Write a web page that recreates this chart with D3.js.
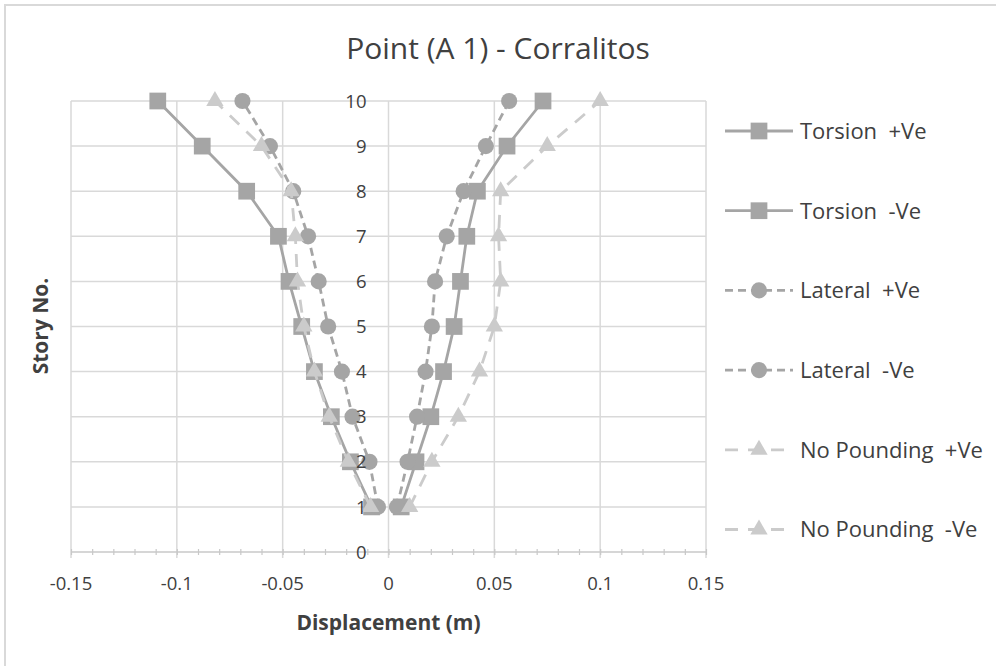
<!DOCTYPE html>
<html>
<head>
<meta charset="utf-8">
<script src="https://cdn.jsdelivr.net/npm/d3@7"></script>
<style>
  html, body { margin: 0; padding: 0; background: #fff; }
  svg { display: block; font-family: "Open Sans", Lato, sans-serif; }
</style>
</head>
<body>
<svg id="chart" width="996" height="666"></svg>
<script>
// Story levels (y) and displacements (m) per series
const stories = [1, 2, 3, 4, 5, 6, 7, 8, 9, 10];
const torsionPos   = [0.006, 0.013, 0.020, 0.026, 0.031, 0.034, 0.037, 0.042, 0.056, 0.073];
const torsionNeg   = [-0.008, -0.018, -0.027, -0.035, -0.041, -0.047, -0.052, -0.067, -0.088, -0.109];
const lateralPos   = [0.004, 0.009, 0.0135, 0.0175, 0.0205, 0.022, 0.0275, 0.0355, 0.046, 0.057];
const lateralNeg   = [-0.005, -0.009, -0.017, -0.022, -0.0285, -0.033, -0.038, -0.045, -0.056, -0.069];
const noPoundPos   = [0.010, 0.0205, 0.033, 0.043, 0.050, 0.053, 0.052, 0.053, 0.075, 0.100];
const noPoundNeg   = [-0.0085, -0.019, -0.028, -0.035, -0.040, -0.043, -0.044, -0.046, -0.060, -0.082];
const seriesNames  = ["Torsion  +Ve", "Torsion  -Ve", "Lateral  +Ve", "Lateral  -Ve", "No Pounding  +Ve", "No Pounding  -Ve"];
const xTicks = [-0.15, -0.1, -0.05, 0, 0.05, 0.1, 0.15];
const yTicks = [0, 1, 2, 3, 4, 5, 6, 7, 8, 9, 10];

const styles = {
  torsion:  { color: "#a5a5a5", dash: null,    symbol: d3.symbolSquare,   size: 280 },
  lateral:  { color: "#a5a5a5", dash: "8,5",   symbol: d3.symbolCircle,   size: 205 },
  noPound:  { color: "#cbcbcb", dash: "13,10", symbol: d3.symbolTriangle, size: 130 }
};

const series = [
  { name: seriesNames[0], values: torsionPos, st: styles.torsion },
  { name: seriesNames[1], values: torsionNeg, st: styles.torsion },
  { name: seriesNames[2], values: lateralPos, st: styles.lateral },
  { name: seriesNames[3], values: lateralNeg, st: styles.lateral },
  { name: seriesNames[4], values: noPoundPos, st: styles.noPound },
  { name: seriesNames[5], values: noPoundNeg, st: styles.noPound }
];

const svg = d3.select("#chart");
const plot = { left: 71, right: 706, top: 101, bottom: 552 };
const textColor = "#404040";

// chart frame
svg.append("rect").attr("x", 5).attr("y", 5).attr("width", 1000).attr("height", 700)
  .attr("fill", "#fff").attr("stroke", "#d9d9d9").attr("stroke-width", 2);

const x = d3.scaleLinear().domain([-0.15, 0.15]).range([plot.left, plot.right]);
const y = d3.scaleLinear().domain([0, 10]).range([plot.bottom, plot.top]);

// gridlines
const grid = svg.append("g");
grid.selectAll("line.v").data(xTicks).join("line")
  .attr("x1", d => x(d)).attr("x2", d => x(d))
  .attr("y1", plot.top).attr("y2", plot.bottom + 6)
  .attr("stroke", "#d9d9d9").attr("stroke-width", 1.5);
grid.selectAll("line.h").data(yTicks.filter(d => d > 0)).join("line")
  .attr("x1", plot.left).attr("x2", plot.right)
  .attr("y1", d => y(d)).attr("y2", d => y(d))
  .attr("stroke", "#d9d9d9").attr("stroke-width", 1.5);

// x axis line with minor ticks every 0.01
const xAxis = d3.axisBottom(x).tickValues(d3.range(-15, 16).map(d => d / 100))
  .tickSize(6).tickFormat("");
const xa = svg.append("g").attr("transform", `translate(0,${plot.bottom - 3})`).call(xAxis);
xa.select(".domain").remove();
xa.selectAll(".tick line").attr("stroke", "#c8c8c8").attr("stroke-width", 1.2);
svg.append("line").attr("x1", plot.left).attr("x2", plot.right)
  .attr("y1", plot.bottom).attr("y2", plot.bottom)
  .attr("stroke", "#c8c8c8").attr("stroke-width", 1.5);

// series lines and markers
const line = d3.line().x(d => x(d[0])).y(d => y(d[1]));
series.forEach(s => {
  const pts = s.values.map((v, i) => [v, stories[i]]);
  const g = svg.append("g");
  g.append("path").attr("d", line(pts)).attr("fill", "none")
    .attr("stroke", s.st.color).attr("stroke-width", 2.8)
    .attr("stroke-dasharray", s.st.dash);
  g.selectAll("path.m").data(pts).join("path")
    .attr("transform", d => `translate(${x(d[0])},${y(d[1])})`)
    .attr("d", d3.symbol(s.st.symbol, s.st.size))
    .attr("fill", s.st.color);
});

// x tick labels
svg.append("g").selectAll("text").data(xTicks).join("text")
  .attr("x", d => x(d)).attr("y", 590)
  .attr("text-anchor", "middle").attr("font-size", 18.5).attr("fill", textColor)
  .text(d => d === 0 ? "0" : String(d));

// y tick labels, placed beside the x = 0 axis
svg.append("g").selectAll("text").data(yTicks).join("text")
  .attr("x", x(0) - 22).attr("y", d => y(d)).attr("dy", "0.36em")
  .attr("text-anchor", "end").attr("font-size", 18.5).attr("fill", textColor)
  .text(d => d);

// title and axis titles
svg.append("text").attr("x", 498).attr("y", 59).attr("text-anchor", "middle")
  .attr("font-size", 30).attr("fill", textColor).text("Point (A 1) - Corralitos");
svg.append("text").attr("x", x(0)).attr("y", 630).attr("text-anchor", "middle")
  .attr("font-size", 21).attr("font-weight", "bold").attr("fill", textColor).text("Displacement (m)");
svg.append("text").attr("transform", `translate(48,326) rotate(-90)`)
  .attr("text-anchor", "middle").attr("font-size", 21).attr("font-weight", "bold")
  .attr("fill", textColor).text("Story No.");

// legend
const leg = svg.append("g");
series.forEach((s, i) => {
  const cy = 131 + i * 79.7;
  const g = leg.append("g").attr("transform", `translate(0,${cy})`);
  g.append("line").attr("x1", 725).attr("x2", 793).attr("y1", 0).attr("y2", 0)
    .attr("stroke", s.st.color).attr("stroke-width", 2.8)
    .attr("stroke-dasharray", s.st.dash);
  g.append("path").attr("transform", "translate(759,0)")
    .attr("d", d3.symbol(s.st.symbol, s.st.size)).attr("fill", s.st.color);
  g.append("text").attr("x", 800).attr("y", 0).attr("dy", "0.36em")
    .attr("font-size", 22).attr("fill", textColor)
    .style("white-space", "pre").text(s.name);
});
</script>
</body>
</html>
